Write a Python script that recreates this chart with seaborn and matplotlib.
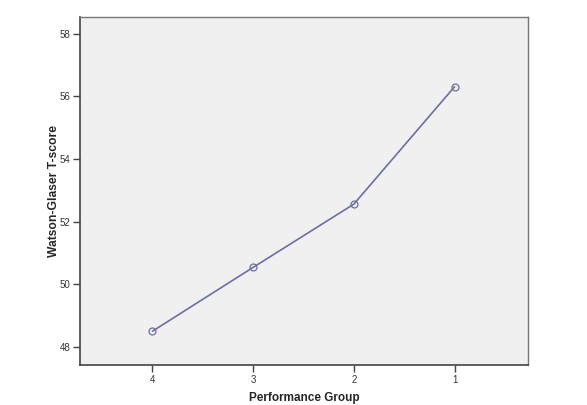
import matplotlib
matplotlib.use("Agg")
import matplotlib.pyplot as plt
import seaborn as sns
import pandas as pd

groups = ["4", "3", "2", "1"]
scores = [48.50, 50.54, 52.56, 56.31]
yticks = [48, 50, 52, 54, 56, 58]

sns.set_style("white")
plt.rcParams['font.family'] = ['Liberation Sans', 'DejaVu Sans']

df = pd.DataFrame({"Performance Group": groups, "Watson-Glaser T-score": scores})

fig = plt.figure(figsize=(5.87, 4.05), dpi=100)
ax = fig.add_axes([0.1363, 0.0988, 0.7632, 0.86])
ax.set_facecolor("#f0f0f0")

sns.lineplot(data=df, x="Performance Group", y="Watson-Glaser T-score", ax=ax,
             color="#6b6fa3", linewidth=1.2, marker="o", markersize=5,
             markerfacecolor="none", markeredgecolor="#6b6fa3", markeredgewidth=0.9,
             sort=False)

ax.set_xlim(-0.72, 3.73)
ax.set_ylim(47.42, 58.55)
ax.set_yticks(yticks)
ax.set_yticklabels([str(t) for t in yticks])

for s in ["left", "bottom"]:
    ax.spines[s].set_color("#444444")
    ax.spines[s].set_linewidth(1.2)
for s in ["top", "right"]:
    ax.spines[s].set_color("#777777")
    ax.spines[s].set_linewidth(1.0)
ax.spines["top"].set_visible(True)
ax.spines["right"].set_visible(True)

ax.tick_params(axis="both", which="major", direction="out", length=5, width=1,
               color="#444444", labelsize=7, labelcolor="#333333", pad=2,
               left=True, bottom=True)
ax.set_xlabel("Performance Group", fontsize=8.5, fontweight="bold", labelpad=5)
ax.set_ylabel("Watson-Glaser T-score", fontsize=8.7, fontweight="bold", labelpad=-0.5)

fig.savefig("out.png", dpi=100)
